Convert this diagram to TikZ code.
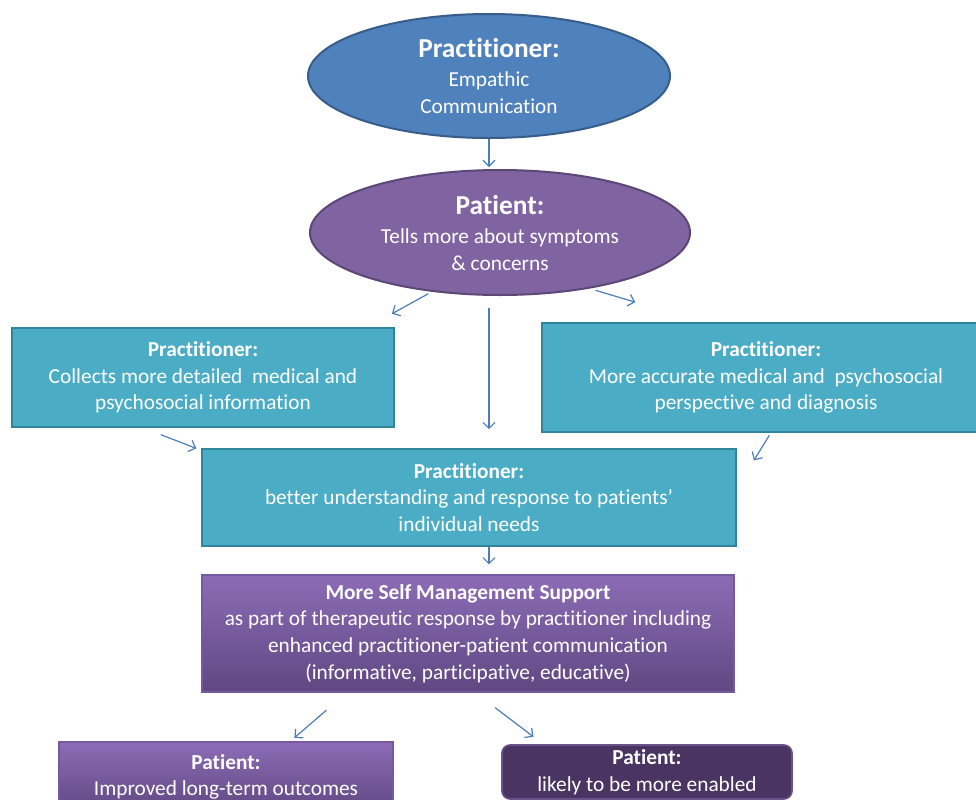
\documentclass[tikz,border=0pt]{standalone}
\usepackage{fontspec}
\setmainfont{Carlito}[Ligatures={NoCommon,NoRequired,NoContextual},Contextuals=NoAlternate]
\usetikzlibrary{shapes.geometric,arrows.meta}
\definecolor{pracblue}{RGB}{79,129,189}
\definecolor{pracline}{RGB}{56,93,138}
\definecolor{patpurple}{RGB}{128,100,162}
\definecolor{patline}{RGB}{92,71,118}
\definecolor{boxteal}{RGB}{75,172,198}
\definecolor{tealline}{RGB}{49,133,155}
\definecolor{lilactop}{RGB}{140,108,182}
\definecolor{lilacbot}{RGB}{96,72,130}
\definecolor{lilacline}{RGB}{118,90,158}
\definecolor{darkplum}{RGB}{74,53,98}
\definecolor{plumline}{RGB}{104,82,136}
\definecolor{arrowblue}{RGB}{74,126,187}
\newcommand{\head}[1]{{\bfseries #1}}
\newcommand{\bighead}[1]{{\fontsize{20.5}{24}\selectfont\bfseries #1}}

\begin{document}
\begin{tikzpicture}[x=0.75pt,y=-0.75pt,font=\fontsize{16}{20}\selectfont,text=white,
    oval/.style={ellipse,inner xsep=0pt,inner ysep=-6pt,align=center,line width=1.5pt},
    box/.style={rectangle,inner sep=1pt,fill=boxteal,draw=tealline,line width=1.2pt,align=center},
    smsbox/.style={rectangle,inner sep=1pt,top color=lilactop,bottom color=lilacbot,draw=lilacline,line width=0.8pt,align=center},
    arr/.style={-{Straight Barb[length=4.5pt,width=9pt]},draw=arrowblue,line width=0.9pt}]
    \useasboundingbox (0,0) rectangle (976,800);
    \clip (0,0) rectangle (976,800);
    % ovals
    \node[oval,fill=pracblue,draw=pracline,minimum width=271.5pt,minimum height=93pt] (prac) at (489,76)
      {\bighead{Practitioner:}\\[2pt] Empathic\\ Communication};
    \node[oval,fill=patpurple,draw=patline,minimum width=285pt,minimum height=93.75pt] (pat) at (500,232.5)
      {\bighead{Patient:}\\[2pt] Tells more about symptoms\\ \& concerns};
    % practitioner boxes
    \node[box,minimum width=286.5pt,minimum height=74.25pt] (coll) at (203,377.5)
      {\head{Practitioner:}\\ Collects more detailed~ medical and\\ psychosocial information};
    \node[box,minimum width=336pt,minimum height=81.75pt] (acc) at (766,377.5)
      {\head{Practitioner:}\\ More accurate medical and~ psychosocial\\ perspective and diagnosis};
    \node[box,minimum width=400.5pt,minimum height=72.75pt] (mid) at (469,497.5)
      {\head{Practitioner:}\\ better understanding and response to patients’\\ individual needs};
    % support and outcomes
    \node[smsbox,minimum width=399pt,minimum height=87.75pt] (sms) at (468,633.5)
      {\head{More Self Management Support}\\ as part of therapeutic response by practitioner including\\
       enhanced practitioner-patient communication\\ (informative, participative, educative)};
    \node[smsbox,minimum width=250.5pt,minimum height=52.5pt] (outc) at (226,777)
      {\head{Patient:}\\ Improved long-term outcomes};
    \node[rectangle,rounded corners=6pt,inner sep=1pt,fill=darkplum,draw=plumline,line width=1.2pt,
      minimum width=217.5pt,minimum height=40.5pt,align=center] (enab) at (647,772)
      {\head{Patient:}\\ likely to be more enabled};
    % arrows
    \draw[arr,shorten >=1.5pt] (prac.south) -- (pat.north -| prac.south);
    \draw[arr,shorten <=3pt,shorten >=20.9pt] (pat.221) -- (coll.17);
    \draw[arr,shorten <=9pt,shorten >=14.25pt] (pat.south -| prac.south) -- (mid.north -| prac.south);
    \draw[arr,shorten <=4.5pt,shorten >=52.5pt] (pat.328) -- (acc.139);
    \draw[arr,shorten <=14.3pt,shorten >=3.9pt] (coll.220) -- (mid.170);
    \draw[arr,shorten <=2.25pt,shorten >=24.4pt] (acc.275) -- (mid.2);
    \draw[arr,shorten >=7.5pt] (mid.south -| prac.south) -- (sms.north -| prac.south);
    \draw[arr,shorten <=20.3pt,shorten >=4.2pt] (sms.206) -- (outc.29);
    \draw[arr,shorten <=18.75pt,shorten >=9.2pt] (sms.277) -- (enab.165);
\end{tikzpicture}
\end{document}
